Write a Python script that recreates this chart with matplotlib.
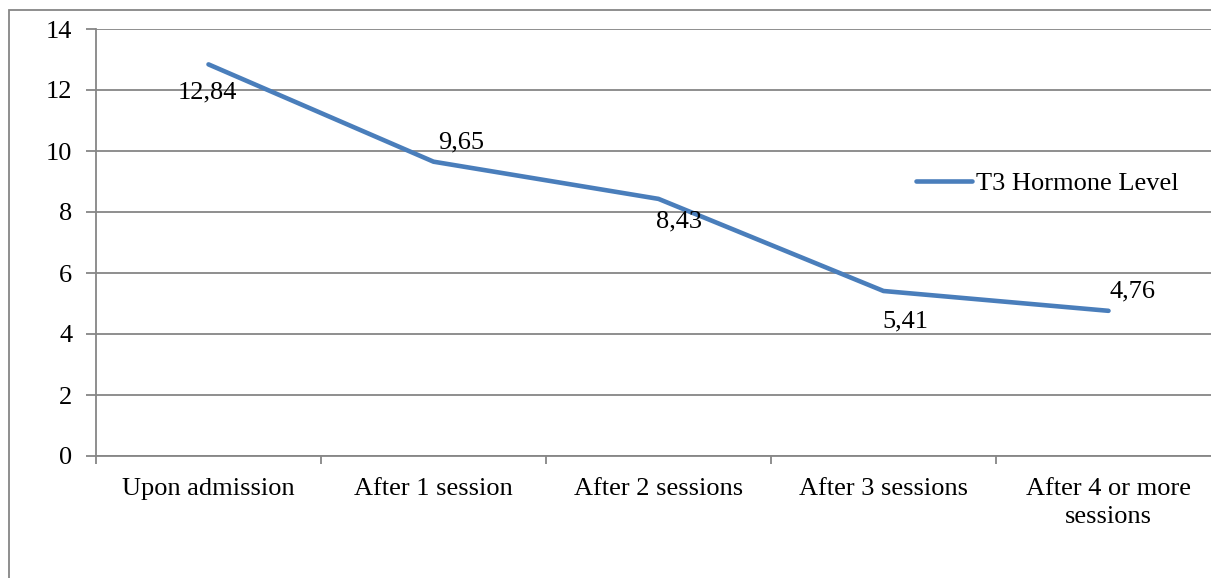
import numpy as np
import matplotlib.pyplot as plt
from matplotlib.patches import Rectangle

# data
categories = ["Upon admission", "After 1 session", "After 2 sessions",
              "After 3 sessions", "After 4 or more\nsessions"]
t3_level = [12.84, 9.65, 8.43, 5.41, 4.76]
series_name = "T3 Hormone Level"

# label offsets (points) so they sit like the original
label_offsets = [(-1, -20), (20, 14), (15, -16), (16, -22), (17, 14)]

plt.rcParams['font.family'] = ['Liberation Serif', 'DejaVu Serif']
fs = 19

W, H = 1211, 578
fig = plt.figure(figsize=(W / 100, H / 100), dpi=100)
ax = fig.add_axes([96 / W, 1 - 456 / H, (1221 - 96) / W, (456 - 29) / H])

grey = '#868686'
blue = '#4A7EBB'

# outer chart border (cut off on the right and bottom like the original)
fig.patches.append(Rectangle((9 / W, -0.1), 2, 1 - 10 / H + 0.1,
                             transform=fig.transFigure, fill=False,
                             edgecolor=grey, linewidth=1.3))

x = np.arange(len(categories))
ax.plot(x, t3_level, color=blue, linewidth=3.3, solid_capstyle='round',
        label=series_name, clip_on=False)

for xi, val, off in zip(x, t3_level, label_offsets):
    ax.annotate(f"{val:.2f}".replace('.', ','), (xi, val), xytext=off,
                textcoords='offset points', ha='center', va='center',
                fontsize=fs)

ax.set_xlim(-0.5, len(categories) - 0.5)
ax.set_ylim(0, 14)
ax.set_yticks(range(0, 15, 2))
ax.set_xticks(x)
ax.set_xticklabels(categories, fontsize=fs, linespacing=1.36)
ax.set_xticks(np.arange(-0.5, len(categories), 1), minor=True)
ax.tick_params(axis='x', which='major', length=0, pad=16)
ax.tick_params(axis='x', which='minor', length=6, color=grey, width=1.3)
ax.tick_params(axis='y', length=7, color=grey, width=1.3, labelsize=fs, pad=10)

ax.grid(axis='y', color=grey, linewidth=1.3)
ax.set_axisbelow(True)
for side in ['top', 'right']:
    ax.spines[side].set_visible(False)
for side in ['left', 'bottom']:
    ax.spines[side].set_color(grey)
    ax.spines[side].set_linewidth(1.3)

ax.legend(loc='center left', bbox_to_anchor=(903 / W, 1 - 183 / H),
          bbox_transform=fig.transFigure, frameon=False, fontsize=fs,
          handlelength=2.1, handletextpad=0.15, borderpad=0)

fig.savefig('out.png', dpi=100)
